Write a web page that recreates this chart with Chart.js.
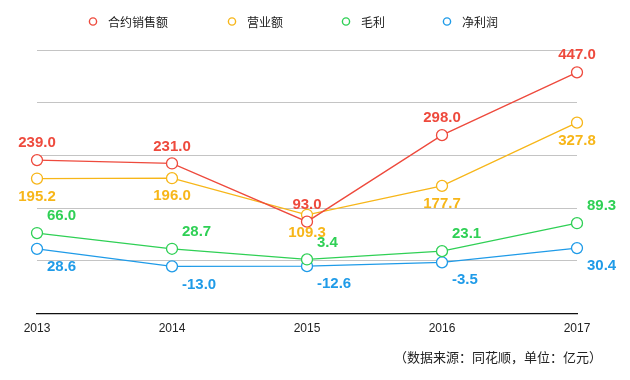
<!DOCTYPE html>
<html>
<head>
<meta charset="utf-8">
<script src="https://cdn.jsdelivr.net/npm/chart.js@4/dist/chart.umd.min.js"></script>
<style>
html,body{margin:0;padding:0;background:#fff;}
#wrap{width:630px;height:380px;position:relative;}
</style>
</head>
<body>
<div id="wrap"><canvas id="c" width="630" height="380"></canvas></div>
<script>
const years = ['2013', '2014', '2015', '2016', '2017'];
const contractSales = [239.0, 231.0, 93.0, 298.0, 447.0];
const revenue = [195.2, 196.0, 109.3, 177.7, 327.8];
const grossProfit = [66.0, 28.7, 3.4, 23.1, 89.3];
const netProfit = [28.6, -13.0, -12.6, -3.5, 30.4];
const seriesNames = ['合约销售额', '营业额', '毛利', '净利润'];
const yTicks = [-125, 0, 125, 250, 375, 500];
const footnote = '（数据来源：同花顺，单位：亿元）';

const colors = ['#ee4a3d', '#f7b619', '#2fd055', '#1f9be8'];
// label placement: [align, dx, dy]
const labelPos = [
  ['center', 0, -17],
  ['center', 0, 18],
  ['left', 10, -17],
  ['left', 10, 18]
];
const LATIN = '"Helvetica Neue", Helvetica, Arial, "Liberation Sans", sans-serif';
const CJK = '"Noto Sans CJK SC", "Noto Sans", sans-serif';

function ds(label, data, i) {
  return {
    label, data,
    borderColor: colors[i],
    backgroundColor: '#ffffff',
    borderWidth: 1.3,
    pointRadius: 5.5,
    pointBorderWidth: 1.3,
    pointBackgroundColor: '#ffffff',
    pointBorderColor: colors[i],
    tension: 0
  };
}

const extras = {
  id: 'extras',
  afterDatasetsDraw(chart) {
    const ctx = chart.ctx;
    ctx.save();
    chart.data.datasets.forEach((d, i) => {
      const meta = chart.getDatasetMeta(i);
      const [align, dx, dy] = labelPos[i];
      ctx.font = 'bold 15px ' + LATIN;
      ctx.fillStyle = colors[i];
      ctx.textAlign = align;
      ctx.textBaseline = 'middle';
      meta.data.forEach((pt, j) => {
        ctx.fillText(d.data[j].toFixed(1), pt.x + dx, pt.y + dy);
      });
    });
    ctx.restore();
  },
  afterDraw(chart) {
    const ctx = chart.ctx;
    ctx.save();
    const legendX = [93, 232, 346, 447];
    ctx.font = '12px ' + CJK;
    ctx.textBaseline = 'middle';
    ctx.textAlign = 'left';
    seriesNames.forEach((n, i) => {
      ctx.beginPath();
      ctx.arc(legendX[i], 21.5, 3.6, 0, Math.PI * 2);
      ctx.fillStyle = '#fff';
      ctx.fill();
      ctx.lineWidth = 1.4;
      ctx.strokeStyle = colors[i];
      ctx.stroke();
      ctx.fillStyle = '#222';
      ctx.fillText(n, legendX[i] + 15, 22);
    });
    ctx.font = '13px ' + CJK;
    ctx.textAlign = 'right';
    ctx.fillStyle = '#222';
    ctx.fillText(footnote, 602, 357);
    ctx.restore();
  }
};

new Chart(document.getElementById('c'), {
  type: 'line',
  data: {
    labels: years,
    datasets: [
      ds(seriesNames[0], contractSales, 0),
      ds(seriesNames[1], revenue, 1),
      ds(seriesNames[2], grossProfit, 2),
      ds(seriesNames[3], netProfit, 3)
    ]
  },
  options: {
    responsive: false,
    animation: false,
    layout: { padding: { top: 50, left: 37, right: 53, bottom: 36 } },
    plugins: {
      legend: { display: false },
      title: { display: false },
      tooltip: { enabled: false }
    },
    scales: {
      x: {
        offset: false,
        grid: { display: false, drawTicks: false },
        border: { display: true, color: '#111', width: 1.2 },
        ticks: { color: '#222', font: { size: 12, family: LATIN }, padding: 8, maxRotation: 0 }
      },
      y: {
        min: yTicks[0],
        max: yTicks[yTicks.length - 1],
        afterBuildTicks(scale) { scale.ticks = yTicks.map(v => ({ value: v })); },
        grid: { color: '#c4c4c4', lineWidth: 1, drawTicks: false },
        border: { display: false },
        ticks: { display: false }
      }
    }
  },
  plugins: [extras]
});
</script>
</body>
</html>
